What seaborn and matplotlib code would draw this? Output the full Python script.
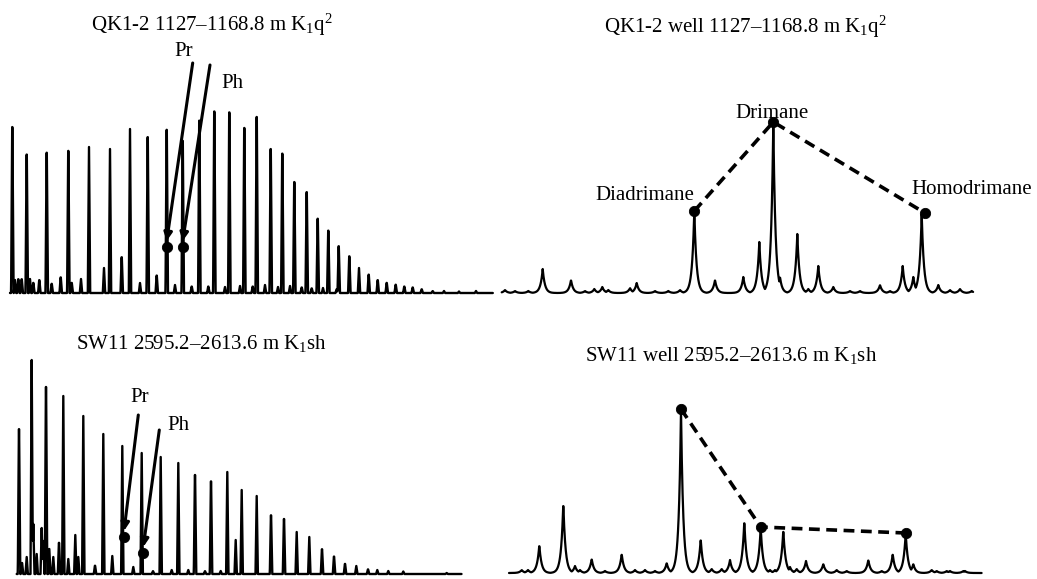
import numpy as np
import pandas as pd
import matplotlib
matplotlib.use("Agg")
import matplotlib.pyplot as plt
import seaborn as sns

# ── n-alkane spikes, QK1-2 (retention position, relative height) ──
qk_alk_x = [12.3, 26.7, 46.7, 68.3, 89, 110, 130, 147.7, 166.7, 182.7, 199.3, 214.3,
            229.3, 244.3, 256.7, 270.7, 282.3, 294.3, 306.7, 317.7, 328.3, 338.7, 349.3,
            359, 368.7, 377.7, 386.7, 395.7, 404.3, 412.7, 421.7, 432.7, 444, 459, 476]
qk_alk_h = [181, 151, 153, 155, 146, 144, 164, 170, 178, 166, 188, 198,
            197, 180, 192, 157, 152, 121, 110, 81, 68, 51, 40,
            25, 20, 14, 11, 9, 7, 6, 4, 2, 2, 1.5, 2]
qk_minor_x = [15, 18.3, 21.7, 30, 33.3, 39.3, 51.7, 60.7, 71.7, 81, 104, 121.7, 140, 156.7,
              175, 191.7, 208.3, 225, 240, 252.7, 265, 278, 290, 301.7, 311.7, 323, 336.7]
qk_minor_h = [13, 15, 15, 14, 11, 14, 10, 17, 11, 14, 25, 39, 10, 19,
              8, 7, 7, 6, 7, 7, 8, 6, 7, 6, 5, 5, 4]
qk_prph_x = [166.7, 182.7]
qk_prph_h = [46, 46]

# ── n-alkane spikes, SW11 ──
sw_alk_x = [19, 31.7, 46, 63.3, 83.3, 103.3, 122.3, 141.7, 160.7, 178.3, 195, 211, 227.3,
            241.7, 256.7, 271, 284, 296.7, 309.3, 322, 334, 345, 356.3, 368, 377.3, 388.3,
            403.3, 446.7]
sw_alk_h = [158, 214, 204, 178, 158, 140, 128, 121, 117, 111, 108, 101, 102,
            84, 78, 64, 60, 42, 37, 27, 19, 11, 8, 5, 4, 3, 2.5, 1]
sw_minor_x = [22, 26.7, 33.3, 36.7, 41.7, 43.3, 49.3, 53.3, 59, 68.3, 75.3, 78.3, 95,
              112.3, 133.3, 153, 171.7, 188.3, 205, 220.7, 235.7]
sw_minor_h = [12, 17, 50, 20, 46, 33, 25, 17, 34, 15, 39, 17, 9,
              18, 7, 3, 4, 4, 3, 3, 34]
sw_prph_x = [124, 143.3]
sw_prph_h = [37, 21]

# ── sesquiterpanes (m/z 123), QK1-2 ──
qk_ses_x = [505, 542.7, 571, 594.3, 602.3, 630, 636.7, 680, 694.3, 715, 743.3, 759.3, 773.3,
            780, 797.3, 808.3, 818.3, 833.3, 880, 902.7, 913.3, 921.7, 938.3, 950, 960, 971.7]
qk_ses_h = [3, 24, 13, 4, 6, 5, 10, 3, 83, 13, 16, 51, 171,
            16, 59, 4, 27, 6, 8, 27, 16, 79, 8, 3, 4, 2]
qk_noise_x = [515, 528.3, 585, 608.3, 655, 668.3, 850, 860, 890]
qk_noise_h = [2, 2, 2, 3, 2, 2, 2, 2, 2]
qk_drim_x = [694.3, 773.3, 925]
qk_drim_h = [82, 171, 80]
qk_drim_names = ["Diadrimane", "Drimane", "Homodrimane"]

# ── sesquiterpanes, SW11 ──
sw_ses_x = [521.7, 539.3, 563.3, 575, 591.7, 621.7, 666.7, 681, 700.7, 730, 744.3, 760.7,
            783.3, 790, 806, 823.3, 868.3, 892.7, 905.7, 913.3, 931.7, 950, 965]
sw_ses_h = [3, 28, 70, 7, 14, 19, 10, 164, 34, 13, 52, 46,
            43, 6, 12, 9, 13, 19, 40, 9, 3, 2, 2]
sw_noise_x = [528, 556.7, 580, 605, 635, 645, 655, 711.7, 721.7, 770, 775, 796.7,
              836.7, 846.7, 881.7, 936.7, 946.7, 963.3]
sw_noise_h = [3, 3, 3, 2, 3, 3, 2, 4, 4, 3, 3, 4, 3, 2, 2, 2, 2, 2]
sw_drim_x = [681, 760.7, 905.7]
sw_drim_h = [164, 46, 40]

TITLES = [r"QK1-2 1127–1168.8 m K$_1$q$^2$",
          r"QK1-2 well 1127–1168.8 m K$_1$q$^2$",
          r"SW11 2595.2–2613.6 m K$_1$sh",
          r"SW11 well 2595.2–2613.6 m K$_1$sh"]

W, H = 1037, 579

sns.set_theme(style="white")
plt.rcParams["font.family"] = ["Liberation Serif", "DejaVu Serif"]
plt.rcParams["text.color"] = "black"
plt.rcParams["mathtext.fontset"] = "custom"
plt.rcParams["mathtext.rm"] = "Liberation Serif"
plt.rcParams["mathtext.it"] = "Liberation Serif:italic"

FS = 15


def make_trace(px, ph, start, end, width, shape="tri"):
    """Chromatogram trace: each peak drawn as a narrow profile on a flat baseline."""
    xs = np.arange(start, end, 0.2)
    ys = np.zeros_like(xs)
    for x0, h in zip(px, ph):
        d = np.abs(xs - x0)
        if shape == "tri":
            prof = h * np.clip(1 - d / width, 0, None)
        else:
            prof = h * np.exp(-d / width)
        ys = np.maximum(ys, prof)
    return pd.DataFrame({"rt": xs, "signal": ys})


def panel(fig, left, right, top, base):
    ax = fig.add_axes([left / W, (H - base - 4) / H, (right - left) / W, (base + 4 - top) / H])
    ax.set_xlim(left, right)
    ax.set_ylim(-4, base - top)
    ax.axis("off")
    return ax


fig = plt.figure(figsize=(W / 100, H / 100), dpi=100)

# ── left panels: n-alkanes ──
for (alk_x, alk_h, mn_x, mn_h, pp_x, pp_h, start, end, top, base, title, tpos,
     arr_from, lab_pos) in [
        (qk_alk_x, qk_alk_h, qk_minor_x, qk_minor_h, qk_prph_x, qk_prph_h, 10, 493, 0, 293,
         TITLES[0], (211.7, 268), [(192.7, 230), (210, 228)], [(183.3, 241), (232.3, 210)]),
        (sw_alk_x, sw_alk_h, sw_minor_x, sw_minor_h, sw_prph_x, sw_prph_h, 16.7, 461.7, 300, 574,
         TITLES[2], (201.7, 231), [(138.3, 159), (159.3, 144)], [(139.3, 177), (178.3, 149)]),
]:
    ax = panel(fig, 0, 500, top, base)
    df = make_trace(alk_x + mn_x, alk_h + mn_h, start, end, 1.2)
    sns.lineplot(data=df, x="rt", y="signal", ax=ax, color="black", lw=1.7,
                 estimator=None, sort=False)
    ax.text(tpos[0], tpos[1], title, ha="center", va="center", fontsize=FS)
    for (x, h), src, lab, name in zip(zip(pp_x, pp_h), arr_from, lab_pos, ["Pr", "Ph"]):
        ax.annotate("", xy=(x, h + 6), xytext=src, annotation_clip=False,
                    arrowprops=dict(arrowstyle="-|>", lw=2.2, color="black",
                                    mutation_scale=12, shrinkA=0, shrinkB=0))
        ax.text(lab[0], lab[1], name, ha="center", va="center", fontsize=FS)
    sns.scatterplot(x=pp_x, y=pp_h, ax=ax, color="black", s=55, edgecolor="black", zorder=5)

# ── right panels: drimane series ──
ax = panel(fig, 495, 1037, 0, 293)
df = make_trace(qk_ses_x + qk_noise_x, qk_ses_h + qk_noise_h, 501.7, 973.3, 2.2, shape="exp")
sns.lineplot(data=df, x="rt", y="signal", ax=ax, color="black", lw=1.6, estimator=None, sort=False)
ax.plot(qk_drim_x, qk_drim_h, color="black", lw=2.6, ls=(0, (3, 1.8)))
sns.scatterplot(x=qk_drim_x, y=qk_drim_h, ax=ax, color="black", s=55, edgecolor="black", zorder=5)
ax.text(745, 266, TITLES[1], ha="center", va="center", fontsize=FS)
for x, y, name in zip([645, 772, 971.7], [98, 180, 103], qk_drim_names):
    ax.text(x, y, name, ha="center", va="center", fontsize=FS)

ax = panel(fig, 495, 1037, 300, 573)
df = make_trace(sw_ses_x + sw_noise_x, sw_ses_h + sw_noise_h, 509, 981.7, 2.2, shape="exp")
sns.lineplot(data=df, x="rt", y="signal", ax=ax, color="black", lw=1.6, estimator=None, sort=False)
ax.plot(sw_drim_x, sw_drim_h, color="black", lw=2.6, ls=(0, (3, 1.8)))
sns.scatterplot(x=sw_drim_x, y=sw_drim_h, ax=ax, color="black", s=55, edgecolor="black", zorder=5)
ax.text(731, 217, TITLES[3], ha="center", va="center", fontsize=FS)

fig.savefig("out.png", dpi=100, facecolor="white")
